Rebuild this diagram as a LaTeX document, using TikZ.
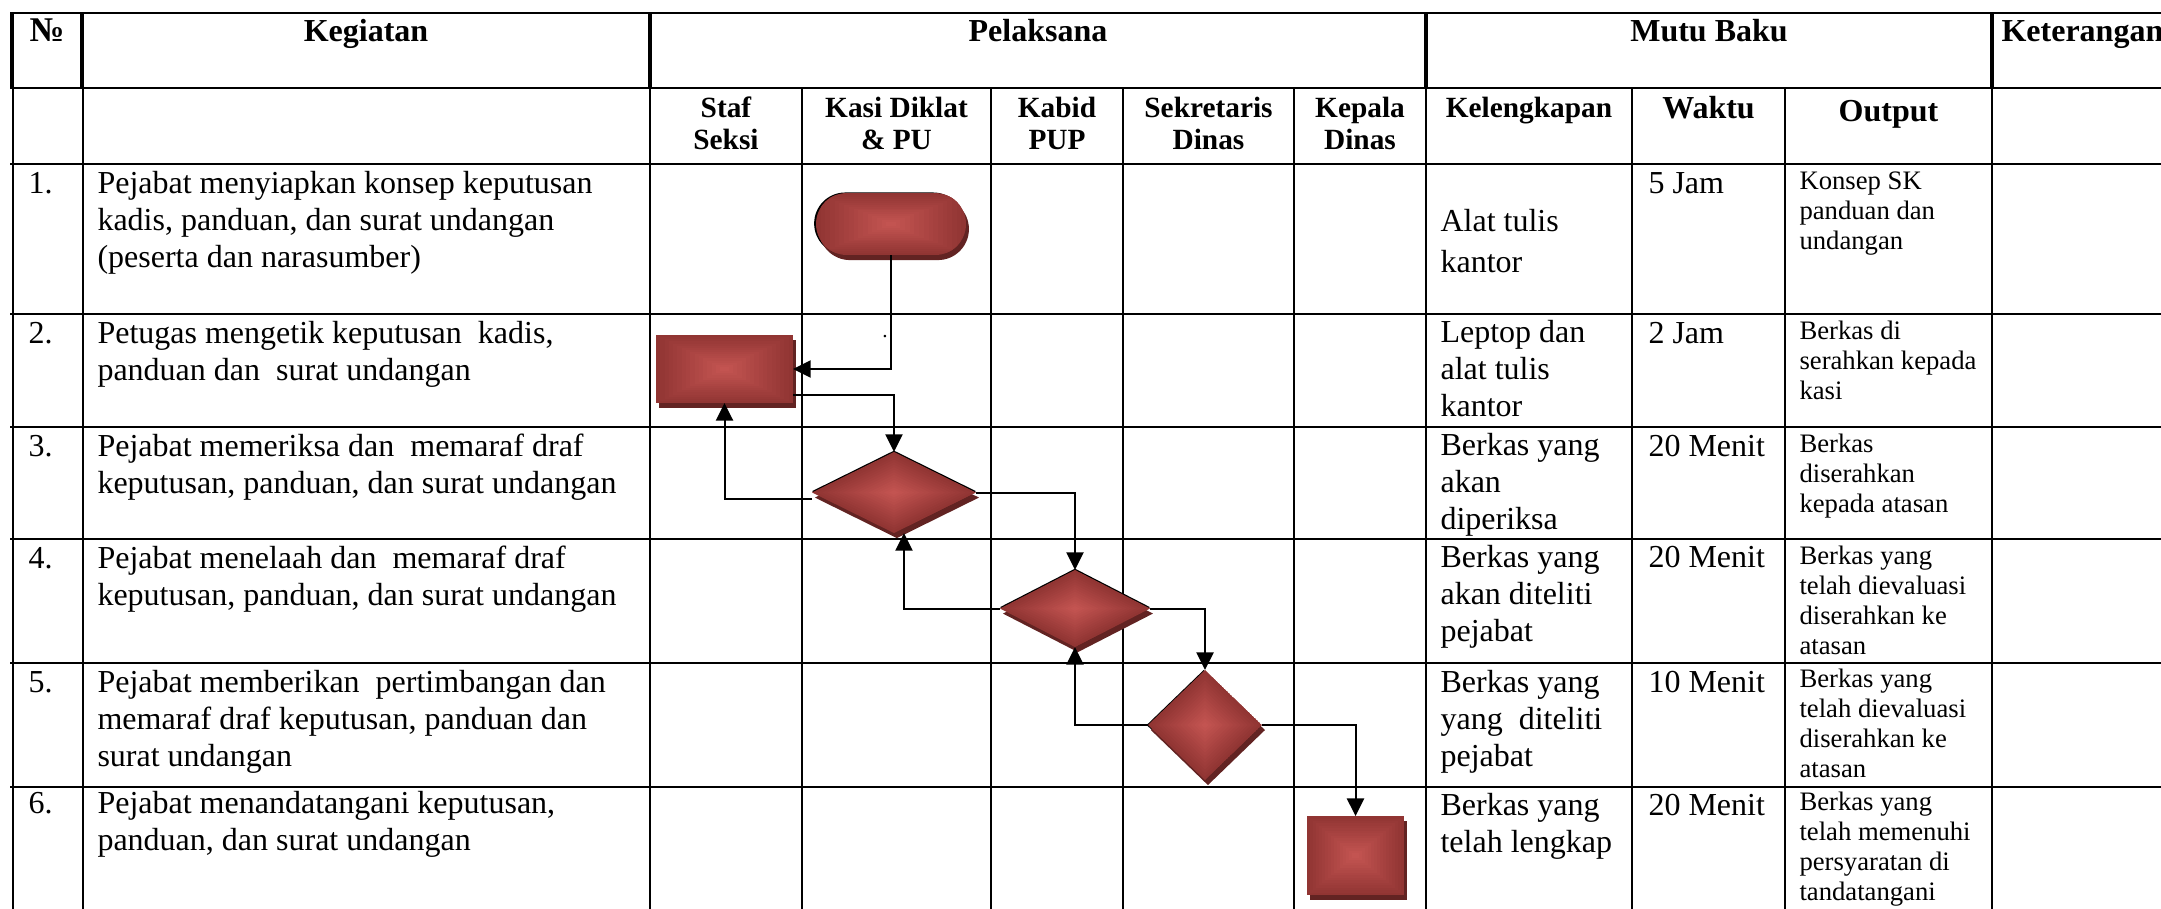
\documentclass[tikz,border=0pt]{standalone}
\usepackage{fontspec}
\setmainfont{Liberation Serif}
\usetikzlibrary{arrows.meta,calc,shapes.geometric,shapes.misc,shadows}

\definecolor{redlite}{RGB}{195,84,81}
\definecolor{reddark}{RGB}{145,53,51}
\definecolor{redshade}{RGB}{98,35,34}

% one cell of text, first baseline on the node's base anchor
\newcommand\colL[1]{\begin{tabular}[t]{@{}l@{}}#1\end{tabular}}
\newcommand\colC[1]{\begin{tabular}[t]{@{}c@{}}#1\end{tabular}}

\tikzset{
  rule/.style={line width=0.75pt},
  rulethick/.style={line width=1.5pt},
  conn/.style={line width=0.75pt, -{Triangle[length=6.6pt,width=6.4pt]}},
  hd/.style={font=\fontsize{12}{14}\selectfont\bfseries, inner sep=0pt, anchor=base},
  sub/.style={font=\fontsize{11}{12.3}\selectfont\bfseries, inner sep=0pt, anchor=base},
  body/.style={font=\fontsize{12}{13.9}\selectfont, inner sep=0pt, anchor=base west},
  small/.style={font=\fontsize{10}{11.25}\selectfont, inner sep=0pt, anchor=base west},
  % concentric gradient, dark rim to light centre
  glowrect/.style={path picture={
      \foreach \gk in {0,...,15}{
        \pgfmathsetmacro\gs{1-\gk/16}
        \pgfmathtruncatemacro\gm{100*\gk/15}
        \fill[redlite!\gm!reddark]
          ($(path picture bounding box.center)!\gs!(path picture bounding box.south west)$)
          rectangle
          ($(path picture bounding box.center)!\gs!(path picture bounding box.north east)$);
      }}},
  glowdiam/.style={path picture={
      \foreach \gk in {0,...,15}{
        \pgfmathsetmacro\gs{1-\gk/16}
        \pgfmathtruncatemacro\gm{100*\gk/15}
        \fill[redlite!\gm!reddark]
          ($(path picture bounding box.center)!\gs!(path picture bounding box.north)$) --
          ($(path picture bounding box.center)!\gs!(path picture bounding box.east)$) --
          ($(path picture bounding box.center)!\gs!(path picture bounding box.south)$) --
          ($(path picture bounding box.center)!\gs!(path picture bounding box.west)$) -- cycle;
      }}},
  inkedge/.style 2 args={general shadow={shadow xshift=#1, shadow yshift=#2, fill=black, opacity=1}},
  redshadow/.style={drop shadow={shadow xshift=1.1pt, shadow yshift=-1.9pt, fill=redshade, opacity=1}},
  terminal/.style={rounded rectangle, inner sep=0pt, outer sep=0pt, glowrect},
  process/.style={rectangle, inner sep=0pt, outer sep=0pt, glowrect, redshadow},
  decision/.style={diamond, inner sep=0pt, outer sep=0pt, glowdiam},
}

\begin{document}
\begin{tikzpicture}[x=0.375pt, y=-0.375pt]
\useasboundingbox (0,0) rectangle (2161,908);

% ---- table rules ----
\foreach \yy in {13,88,164,314,427,539,663,787}
  \draw[rule] (10,\yy) -- (2170,\yy);
\foreach \xx in {12,82,650,1426,1992}
  \draw[rulethick] (\xx,12) -- (\xx,89);
\foreach \xx in {13,83,650,1426,1992}
  \draw[rule] (\xx,88) -- (\xx,915);
\foreach \xx in {802,991,1123,1294,1632,1785}
  \draw[rule] (\xx,88) -- (\xx,915);

% ---- header ----
\node[hd, font=\fontsize{13}{14}\selectfont\bfseries] (hNo) at (47,41) {№};
\node[hd] (hKeg) at (366,41) {Kegiatan};
\node[hd] (hPel) at (1038,41) {Pelaksana};
\node[hd] (hMutu) at (1709,41) {Mutu Baku};
\node[hd, anchor=base west] (hKet) at (2001,41) {Keterangan};

\node[sub] (sStaf) at (726,117) {\colC{Staf\\Seksi}};
\node[sub] (sKasi) at (896.5,117) {\colC{Kasi Diklat\\\& PU}};
\node[sub] (sKabid) at (1057,117) {\colC{Kabid\\PUP}};
\node[sub] (sSek) at (1208.5,117) {\colC{Sekretaris\\Dinas}};
\node[sub] (sKep) at (1360,117) {\colC{Kepala\\Dinas}};
\node[sub] (sKel) at (1529,117) {Kelengkapan};
\node[hd] (sWak) at (1708.5,118) {Waktu};
\node[hd] (sOut) at (1888.5,121) {Output};

% ---- numbers ----
\node[body] (n1) at (28,193) {1.};
\node[body] (n2) at (28,343) {2.};
\node[body] (n3) at (28,456) {3.};
\node[body] (n4) at (28,568) {4.};
\node[body] (n5) at (28,692) {5.};
\node[body] (n6) at (28,813) {6.};

% ---- kegiatan ----
\node[body] (k1) at (97,193) {\colL{Pejabat menyiapkan konsep keputusan\\kadis, panduan, dan surat undangan\\(peserta dan narasumber)}};
\node[body] (k2) at (97,343) {\colL{Petugas mengetik keputusan\ \ kadis,\\panduan dan\ \ surat undangan}};
\node[body] (k3) at (97,456) {\colL{Pejabat memeriksa dan\ \ memaraf draf\\keputusan, panduan, dan surat undangan}};
\node[body] (k4) at (97,568) {\colL{Pejabat menelaah dan\ \ memaraf draf\\keputusan, panduan, dan surat undangan}};
\node[body] (k5) at (97,692) {\colL{Pejabat memberikan\ \ pertimbangan dan\\memaraf draf keputusan, panduan dan\\surat undangan}};
\node[body] (k6) at (97,813) {\colL{Pejabat menandatangani keputusan,\\panduan, dan surat undangan}};

% ---- kelengkapan ----
\node[body] (l1) at (1440,231) {\colL{Alat tulis\\[1.5pt]kantor}};
\node[body] (l2) at (1440,342) {\colL{Leptop dan\\alat tulis\\kantor}};
\node[body] (l3) at (1440,455) {\colL{Berkas yang\\akan\\diperiksa}};
\node[body] (l4) at (1440,567) {\colL{Berkas yang\\akan diteliti\\pejabat}};
\node[body] (l5) at (1440,692) {\colL{Berkas yang\\yang\ \ diteliti\\pejabat}};
\node[body] (l6) at (1440,815) {\colL{Berkas yang\\telah lengkap}};

% ---- waktu ----
\node[body] (w1) at (1648,193) {5 Jam};
\node[body] (w2) at (1648,343) {2 Jam};
\node[body] (w3) at (1648,456) {20 Menit};
\node[body] (w4) at (1648,567) {20 Menit};
\node[body] (w5) at (1648,692) {10 Menit};
\node[body] (w6) at (1648,815) {20 Menit};

% ---- output ----
\node[small] (o1) at (1799,189) {\colL{Konsep SK\\panduan dan\\undangan}};
\node[small] (o2) at (1799,339) {\colL{Berkas di\\serahkan kepada\\kasi}};
\node[small] (o3) at (1799,452) {\colL{Berkas\\diserahkan\\kepada atasan}};
\node[small] (o4) at (1799,564) {\colL{Berkas yang\\telah dievaluasi\\diserahkan ke\\atasan}};
\node[small] (o5) at (1799,687) {\colL{Berkas yang\\telah dievaluasi\\diserahkan ke\\atasan}};
\node[small] (o6) at (1799,810) {\colL{Berkas yang\\telah memenuhi\\persyaratan di\\tandatangani}};

% ---- flow symbols ----
\node[terminal, inkedge={-0.7pt}{0.2pt}, redshadow, minimum width=56.25pt, minimum height=23.25pt] (t1) at (891,224) {};
\node[process, minimum width=51.4pt, minimum height=25.5pt] (r1) at (724.5,369) {};
\node[decision, inkedge={0pt}{0.5pt}, redshadow, minimum width=61.5pt, minimum height=30.4pt] (d1) at (894,492.5) {};
\node[decision, inkedge={0pt}{0.5pt}, redshadow, minimum width=56.25pt, minimum height=28.9pt] (d2) at (1075,608.5) {};
\node[decision, inkedge={-0.5pt}{0pt}, redshadow, minimum width=42.75pt, minimum height=41.25pt] (d3) at (1205,725) {};
\node[process, minimum width=36.4pt, minimum height=29.6pt] (r2) at (1355.5,855.5) {};
\node[font=\fontsize{8}{8}\selectfont, inner sep=0pt, anchor=base] (dot) at (885,337) {.};

% ---- connectors ----
\draw[conn] (t1.south) |- (r1.east);
\draw[conn] ([yshift=-9.7pt]r1.east) -| (d1.north);
\draw[conn] ([yshift=-2.6pt]d1.west) -| (r1.south);
\draw[conn] (d1.east) -| (d2.north);
\draw[conn] (d2.west) -| ([xshift=3.75pt]d1.south);
\draw[conn] (d2.east) -| (d3.north);
\draw[conn] (d3.west) -| (d2.south);
\draw[conn] (d3.east) -| (r2.north);
\end{tikzpicture}
\end{document}
